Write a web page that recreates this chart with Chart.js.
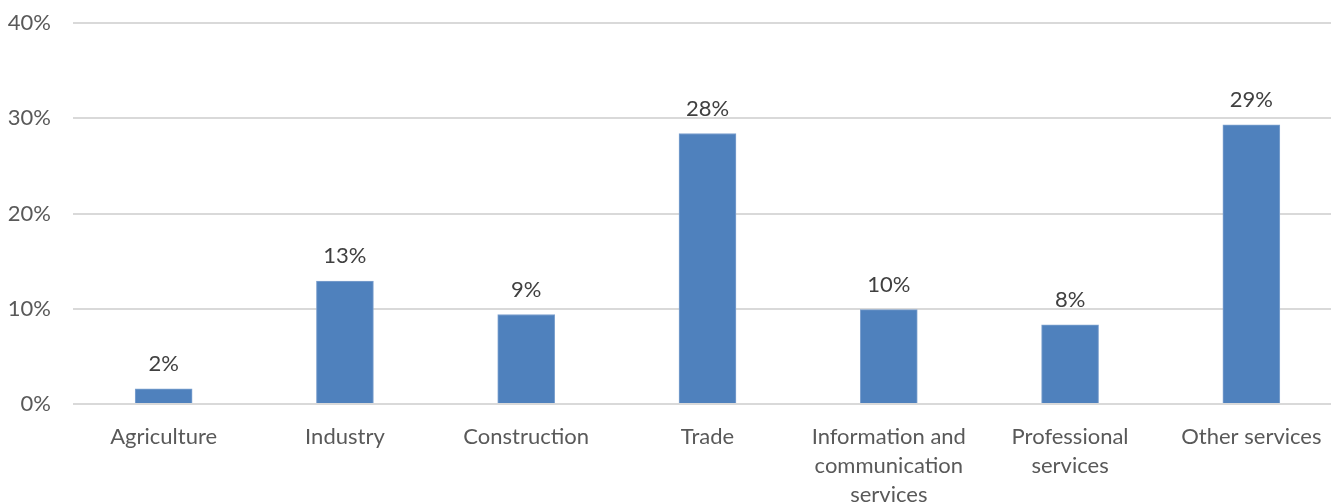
<!DOCTYPE html>
<html>
<head>
    <title>Share by sector</title>
    <script src="https://cdn.jsdelivr.net/npm/chart.js@4"></script>
    <style>
        html, body {
            margin: 0;
            padding: 0;
            background: #ffffff;
            overflow: hidden;
        }
        .container {
            position: relative;
            width: 1342px;
            height: 504px;
        }
    </style>
</head>
<body>
    <div class="container">
        <canvas id="sectorChart"></canvas>
    </div>
    <script>
        // Sectors and their share (percent)
        const sectors = [
            "Agriculture",
            "Industry",
            "Construction",
            "Trade",
            ["Information and", "communication", "services"],
            ["Professional", "services"],
            "Other services"
        ];
        const shares = [1.6, 12.9, 9.4, 28.4, 9.9, 8.3, 29.3];
        const yTicks = [0, 10, 20, 30, 40];

        const FONT = "Lato, 'Open Sans', sans-serif";

        // Draws the rounded percentage above every bar
        const barLabels = {
            id: "barLabels",
            afterDatasetsDraw(chart) {
                const ctx = chart.ctx;
                const meta = chart.getDatasetMeta(0);
                ctx.save();
                ctx.font = "22px " + FONT;
                ctx.fillStyle = "#404040";
                ctx.textAlign = "center";
                ctx.textBaseline = "middle";
                meta.data.forEach(function (bar, i) {
                    const value = chart.data.datasets[0].data[i];
                    ctx.fillText(Math.round(value) + "%", bar.x, bar.y - 25);
                });
                ctx.restore();
            }
        };

        const ctx = document.getElementById("sectorChart").getContext("2d");
        new Chart(ctx, {
            type: "bar",
            data: {
                labels: sectors,
                datasets: [
                    {
                        data: shares,
                        backgroundColor: "#4f81bd",
                        borderColor: "#7fa2cf",
                        borderWidth: 1,
                        barThickness: 57
                    }
                ]
            },
            options: {
                responsive: true,
                maintainAspectRatio: false,
                animation: false,
                layout: {
                    padding: { top: 23, left: 0, right: 0, bottom: 0 }
                },
                plugins: {
                    legend: { display: false },
                    tooltip: { enabled: false }
                },
                scales: {
                    x: {
                        grid: { display: false },
                        border: { display: false },
                        ticks: {
                            color: "#595959",
                            font: { family: FONT, size: 22, lineHeight: 1.32 },
                            maxRotation: 0,
                            autoSkip: false,
                            padding: 10
                        },
                        afterFit(scale) {
                            scale.height = 100;
                            scale.paddingLeft = 0;
                            scale.paddingRight = 0;
                        }
                    },
                    y: {
                        min: 0,
                        max: 40,
                        afterBuildTicks(scale) {
                            scale.ticks = yTicks.map(function (v) { return { value: v }; });
                        },
                        grid: {
                            color: "#d9d9d9",
                            lineWidth: 2,
                            drawTicks: false
                        },
                        border: { display: false },
                        ticks: {
                            color: "#595959",
                            font: { family: FONT, size: 22 },
                            padding: 22,
                            callback: function (v) { return v + "%"; }
                        },
                        afterFit(scale) {
                            scale.width = 73;
                            scale.paddingTop = 0;
                            scale.paddingBottom = 0;
                        }
                    }
                }
            },
            plugins: [barLabels]
        });
    </script>
</body>
</html>
